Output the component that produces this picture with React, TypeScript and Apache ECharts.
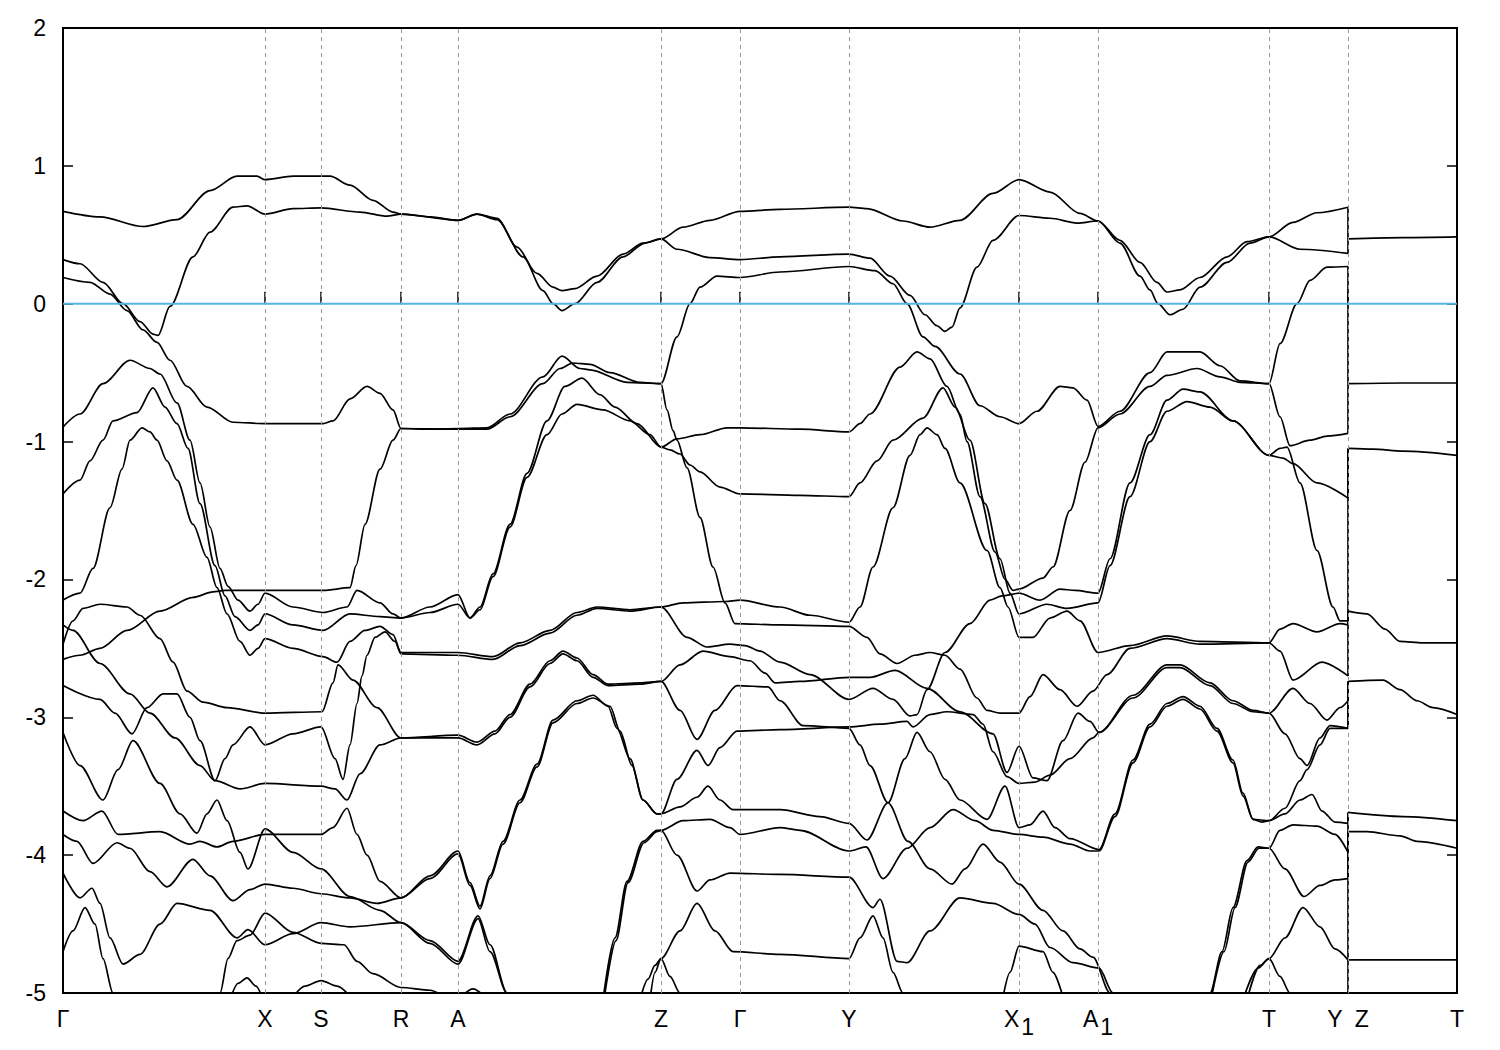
import React, { useEffect, useRef } from "react";
import * as echarts from "echarts";

// high-symmetry k-points (path distance) and their labels
const kPoints = [0, 2.02, 2.58, 3.38, 3.95, 5.98, 6.77, 7.86, 9.56, 10.35, 12.06, 12.85, 13.94];
const kLabels = ["Γ", "X", "S", "R", "A", "Z", "Γ", "Y", "X|1", "A|1", "T", "Y  Z", "T"];
const eMin = -5;
const eMax = 2;
const kYZ = 12.85;

// bands along Γ-X-S-R-A-Z-Γ-Y-X1-A1-T-Y  ([k, E] in eV)
const bandU1 = [[0,0.67],[0.37,0.63],[0.80,0.56],[1.14,0.61],[1.47,0.82],[1.74,0.925],[1.94,0.925],[2.02,0.90],[2.30,0.925],[2.67,0.925],[2.87,0.86],[3.10,0.75],[3.30,0.665],[3.38,0.65],[3.67,0.63],[3.95,0.605],[4.14,0.65],[4.34,0.62],[4.54,0.41],[4.74,0.22],[4.90,0.12],[4.99,0.095],[5.12,0.11],[5.34,0.20],[5.60,0.36],[5.80,0.44],[5.98,0.47],[6.20,0.555],[6.47,0.605],[6.77,0.67],[7.17,0.685],[7.86,0.70],[8.04,0.69],[8.40,0.60],[8.67,0.555],[8.97,0.605],[9.30,0.80],[9.56,0.90],[9.87,0.81],[10.17,0.655],[10.35,0.60],[10.57,0.46],[10.77,0.30],[10.94,0.155],[11.04,0.085],[11.17,0.10],[11.37,0.19],[11.64,0.34],[11.84,0.45],[12.06,0.485],[12.30,0.59],[12.54,0.66],[12.85,0.70]];
const bandU2 = [[0,0.32],[0.17,0.29],[0.40,0.155],[0.60,0.0],[0.77,-0.13],[0.90,-0.22],[0.95,-0.23],[1.07,-0.02],[1.30,0.34],[1.47,0.52],[1.70,0.70],[1.84,0.71],[2.02,0.65],[2.30,0.69],[2.58,0.695],[2.97,0.665],[3.24,0.635],[3.38,0.65],[3.95,0.605],[4.14,0.65],[4.34,0.61],[4.60,0.34],[4.80,0.095],[4.90,0.0],[4.99,-0.05],[5.12,0.0],[5.34,0.155],[5.60,0.34],[5.82,0.44],[5.98,0.47],[6.14,0.395],[6.47,0.335],[6.77,0.32],[7.17,0.34],[7.86,0.36],[8.07,0.33],[8.27,0.20],[8.47,0.06],[8.62,-0.08],[8.74,-0.16],[8.82,-0.20],[8.89,-0.17],[8.97,-0.03],[9.14,0.265],[9.30,0.46],[9.56,0.64],[9.87,0.62],[10.14,0.585],[10.35,0.60],[10.57,0.44],[10.77,0.20],[10.87,0.10],[10.95,0.0],[11.07,-0.08],[11.20,-0.04],[11.37,0.12],[11.64,0.30],[11.87,0.44],[12.06,0.485],[12.37,0.395],[12.85,0.365]];
const bandU3 = [[0,0.19],[0.27,0.155],[0.47,0.07],[0.64,-0.05],[0.80,-0.19],[0.94,-0.28],[1.07,-0.41],[1.24,-0.60],[1.44,-0.75],[1.70,-0.86],[2.02,-0.87],[2.60,-0.87],[2.70,-0.85],[2.87,-0.69],[3.04,-0.60],[3.17,-0.65],[3.30,-0.77],[3.38,-0.905],[3.67,-0.91],[3.95,-0.905],[4.24,-0.90],[4.47,-0.80],[4.80,-0.53],[4.99,-0.38],[5.17,-0.47],[5.27,-0.48],[5.64,-0.57],[5.98,-0.58],[6.14,-0.24],[6.27,0.0],[6.37,0.12],[6.54,0.20],[6.77,0.19],[7.17,0.23],[7.86,0.27],[8.12,0.24],[8.30,0.145],[8.44,0.0],[8.60,-0.24],[8.72,-0.31],[8.97,-0.51],[9.17,-0.74],[9.37,-0.82],[9.56,-0.87],[9.74,-0.78],[9.97,-0.60],[10.10,-0.61],[10.24,-0.70],[10.35,-0.89],[10.57,-0.78],[10.87,-0.50],[11.04,-0.35],[11.37,-0.35],[11.57,-0.45],[11.77,-0.56],[12.06,-0.58],[12.17,-0.29],[12.34,0.0],[12.47,0.17],[12.64,0.265],[12.85,0.27]];
const bandL4 = [[0,-0.895],[0.17,-0.8],[0.40,-0.58],[0.67,-0.41],[0.87,-0.47],[0.97,-0.51],[1.14,-0.72],[1.27,-0.99],[1.37,-1.3],[1.47,-1.62],[1.57,-1.92],[1.65,-2.05],[1.75,-2.15],[1.87,-2.23],[1.95,-2.18],[2.02,-2.10],[2.30,-2.2],[2.60,-2.24],[2.84,-2.2],[2.94,-2.08],[3.17,-2.17],[3.30,-2.25],[3.38,-2.28],[3.67,-2.2],[3.95,-2.11],[4.07,-2.28],[4.17,-2.2],[4.30,-1.96],[4.47,-1.6],[4.64,-1.23],[4.84,-0.85],[5.02,-0.6],[5.19,-0.54],[5.37,-0.66],[5.52,-0.75],[5.74,-0.87],[5.98,-1.04],[6.14,-0.98],[6.37,-0.95],[6.64,-0.9],[6.77,-0.9],[7.37,-0.91],[7.86,-0.93],[7.97,-0.87],[8.07,-0.8],[8.37,-0.46],[8.54,-0.35],[8.67,-0.4],[8.84,-0.6],[8.97,-0.8],[9.04,-1.0],[9.17,-1.4],[9.32,-1.8],[9.42,-2.0],[9.50,-2.08],[9.56,-2.07],[9.80,-1.99],[9.90,-1.91],[10.07,-1.5],[10.22,-1.15],[10.35,-0.9],[10.57,-0.8],[10.87,-0.6],[11.04,-0.52],[11.34,-0.47],[11.57,-0.53],[11.77,-0.57],[12.06,-0.58],[12.17,-0.82],[12.27,-1.03],[12.47,-0.99],[12.64,-0.96],[12.85,-0.94]];
const bandL6 = [[0,-1.38],[0.17,-1.28],[0.27,-1.14],[0.40,-0.99],[0.50,-0.85],[0.74,-0.79],[0.90,-0.61],[1.02,-0.75],[1.14,-0.87],[1.25,-1.05],[1.37,-1.45],[1.52,-1.9],[1.62,-2.12],[1.72,-2.27],[1.87,-2.37],[1.95,-2.33],[2.02,-2.25],[2.30,-2.33],[2.60,-2.37],[2.87,-2.25],[3.17,-2.27],[3.38,-2.28],[3.67,-2.24],[3.95,-2.18],[4.07,-2.28],[4.17,-2.22],[4.30,-1.98],[4.47,-1.62],[4.64,-1.26],[4.84,-0.95],[4.99,-0.8],[5.14,-0.73],[5.40,-0.77],[5.67,-0.85],[5.87,-0.95],[5.98,-1.04],[6.07,-1.06],[6.17,-1.09],[6.27,-1.17],[6.37,-1.22],[6.57,-1.33],[6.77,-1.38],[7.37,-1.39],[7.86,-1.4],[7.97,-1.3],[8.14,-1.14],[8.30,-0.99],[8.60,-0.83],[8.80,-0.61],[8.92,-0.75],[9.07,-0.99],[9.22,-1.45],[9.37,-1.85],[9.47,-2.1],[9.56,-2.25],[9.84,-2.18],[10.04,-2.21],[10.35,-2.17],[10.47,-1.9],[10.67,-1.4],[10.87,-1.0],[11.04,-0.78],[11.24,-0.71],[11.47,-0.75],[11.70,-0.85],[12.06,-1.1],[12.20,-1.12],[12.30,-1.16],[12.54,-1.3],[12.85,-1.41]];
const bandL7 = [[0,-2.15],[0.17,-2.1],[0.30,-1.92],[0.47,-1.48],[0.59,-1.2],[0.67,-0.99],[0.79,-0.9],[0.87,-0.93],[0.94,-0.99],[1.04,-1.14],[1.14,-1.28],[1.30,-1.6],[1.44,-1.84],[1.54,-2.06],[1.64,-2.25],[1.77,-2.45],[1.87,-2.55],[1.95,-2.5],[2.02,-2.43],[2.30,-2.5],[2.60,-2.56],[2.74,-2.6],[2.87,-2.45],[3.02,-2.37],[3.17,-2.34],[3.30,-2.4],[3.38,-2.53],[3.95,-2.53],[4.30,-2.56],[4.57,-2.46],[4.87,-2.37],[5.14,-2.24],[5.34,-2.2],[5.67,-2.22],[5.98,-2.2],[6.20,-2.17],[6.62,-2.16],[6.77,-2.15],[7.17,-2.2],[7.47,-2.26],[7.86,-2.31],[7.97,-2.2],[8.10,-1.91],[8.30,-1.48],[8.47,-1.1],[8.57,-0.95],[8.64,-0.9],[8.74,-0.95],[8.82,-1.05],[8.97,-1.3],[9.24,-1.79],[9.37,-2.06],[9.45,-2.2],[9.56,-2.42],[9.70,-2.42],[9.87,-2.28],[10.04,-2.23],[10.17,-2.3],[10.35,-2.53],[10.67,-2.48],[11.04,-2.41],[11.37,-2.45],[12.06,-2.46],[12.17,-2.36],[12.30,-2.32],[12.54,-2.38],[12.77,-2.32],[12.85,-2.33]];
const bandL8 = [[0,-2.58],[0.17,-2.55],[0.37,-2.5],[0.64,-2.37],[0.97,-2.23],[1.30,-2.13],[1.50,-2.09],[1.62,-2.08],[2.02,-2.08],[2.60,-2.08],[2.87,-2.06],[2.93,-1.9],[3.02,-1.6],[3.17,-1.2],[3.30,-0.99],[3.38,-0.905],[3.95,-0.91],[4.24,-0.91],[4.47,-0.82],[4.80,-0.58],[4.97,-0.47],[5.10,-0.43],[5.27,-0.44],[5.47,-0.5],[5.77,-0.57],[5.98,-0.58],[6.04,-0.77],[6.10,-0.92],[6.14,-0.99],[6.24,-1.19],[6.37,-1.55],[6.50,-1.91],[6.62,-2.17],[6.72,-2.32],[7.17,-2.33],[7.86,-2.34],[8.04,-2.42],[8.17,-2.54],[8.34,-2.61],[8.52,-2.55],[8.67,-2.53],[8.82,-2.55],[8.97,-2.65],[9.14,-2.86],[9.24,-2.95],[9.37,-2.97],[9.56,-2.97],[9.67,-2.85],[9.80,-2.69],[9.97,-2.8],[10.14,-2.92],[10.30,-2.81],[10.44,-2.69],[10.67,-2.5],[11.04,-2.43],[11.37,-2.47],[12.06,-2.46],[12.17,-2.52],[12.30,-2.73],[12.59,-2.6],[12.85,-2.7]];
const bandA = [[0,-2.33],[0.10,-2.37],[0.37,-2.61],[0.67,-2.83],[0.87,-2.97],[1.12,-3.15],[1.37,-3.35],[1.52,-3.46],[1.77,-3.52],[2.02,-3.48],[2.58,-3.5],[2.72,-3.52],[2.84,-3.6],[2.97,-3.41],[3.17,-3.2],[3.38,-3.15],[3.95,-3.15],[4.14,-3.2],[4.32,-3.12],[4.47,-3.0],[4.67,-2.78],[4.87,-2.61],[5.00,-2.54],[5.14,-2.59],[5.30,-2.71],[5.45,-2.77],[5.77,-2.76],[5.98,-2.74],[6.17,-2.95],[6.34,-3.16],[6.52,-2.95],[6.74,-2.77],[7.05,-2.78],[7.17,-2.88],[7.40,-3.06],[7.86,-3.08],[7.97,-3.2],[8.07,-3.35],[8.25,-3.62],[8.45,-3.9],[8.67,-4.1],[8.89,-4.21],[9.02,-4.1],[9.20,-3.92],[9.37,-4.05],[9.56,-4.21],[9.80,-4.4],[10.00,-4.55],[10.17,-4.68],[10.30,-4.74],[10.47,-5.0],[10.52,-5.1]];
const bandB = [[0,-2.47],[0.10,-2.3],[0.20,-2.21],[0.37,-2.18],[0.64,-2.2],[0.77,-2.26],[0.97,-2.43],[1.10,-2.6],[1.24,-2.81],[1.40,-2.89],[1.64,-2.93],[2.02,-2.97],[2.59,-2.96],[2.70,-2.75],[2.75,-2.62],[2.90,-2.73],[3.14,-2.93],[3.38,-3.15],[3.95,-3.13],[4.14,-3.18],[4.32,-3.1],[4.47,-2.98],[4.67,-2.76],[4.87,-2.59],[5.00,-2.52],[5.14,-2.57],[5.30,-2.69],[5.45,-2.76],[5.77,-2.75],[5.98,-2.74],[6.17,-2.62],[6.40,-2.52],[6.67,-2.56],[6.87,-2.59],[7.02,-2.68],[7.12,-2.75],[7.37,-2.74],[7.86,-2.71],[8.07,-2.71],[8.32,-2.66],[8.64,-2.79],[8.97,-2.96],[9.30,-3.12],[9.44,-3.4],[9.56,-3.21],[9.70,-3.44],[9.84,-3.46],[10.00,-3.17],[10.15,-2.97],[10.27,-3.03],[10.36,-3.11],[10.70,-2.84],[11.04,-2.62],[11.17,-2.62],[11.47,-2.75],[11.70,-2.88],[11.90,-2.95],[12.06,-2.97],[12.30,-2.79],[12.47,-2.9],[12.64,-3.02],[12.77,-2.93],[12.85,-2.88]];
const bandC = [[0,-2.77],[0.37,-2.87],[0.52,-2.97],[0.69,-3.12],[0.84,-2.93],[1.00,-2.83],[1.14,-2.83],[1.27,-3.0],[1.37,-3.17],[1.52,-3.46],[1.62,-3.3],[1.70,-3.2],[1.87,-3.07],[2.02,-3.2],[2.30,-3.12],[2.58,-3.07],[2.72,-3.3],[2.80,-3.45],[2.87,-3.2],[2.94,-2.9],[2.99,-2.7],[3.04,-2.55],[3.12,-2.42],[3.22,-2.38],[3.32,-2.45],[3.38,-2.54],[3.95,-2.55],[4.30,-2.58],[4.57,-2.48],[4.87,-2.39],[5.14,-2.26],[5.34,-2.21],[5.67,-2.23],[5.98,-2.2],[6.24,-2.42],[6.44,-2.49],[6.67,-2.47],[6.82,-2.48],[6.97,-2.52],[7.17,-2.6],[7.47,-2.69],[7.86,-2.87],[8.10,-2.79],[8.30,-2.87],[8.47,-2.99],[8.54,-2.98],[8.64,-2.8],[8.82,-2.53],[9.07,-2.32],[9.27,-2.15],[9.39,-2.12],[9.56,-2.1],[9.77,-2.15],[9.97,-2.07],[10.12,-2.08],[10.35,-2.1],[10.47,-1.85],[10.67,-1.3],[10.87,-0.95],[11.04,-0.7],[11.20,-0.62],[11.37,-0.64],[11.70,-0.85],[12.06,-1.1],[12.17,-1.05],[12.24,-1.04],[12.37,-1.3],[12.54,-1.79],[12.70,-2.2],[12.77,-2.3],[12.85,-2.3]];
const bandD = [[0,-3.11],[0.17,-3.35],[0.40,-3.6],[0.55,-3.38],[0.70,-3.17],[0.97,-3.48],[1.17,-3.7],[1.34,-3.84],[1.44,-3.7],[1.54,-3.6],[1.64,-3.75],[1.77,-3.98],[1.85,-4.1],[2.02,-3.81],[2.30,-3.98],[2.58,-4.1],[2.87,-4.3],[3.17,-4.4],[3.38,-4.49],[3.67,-4.62],[3.95,-4.77],[4.15,-4.44],[4.27,-4.65],[4.44,-5.0],[4.52,-5.15]];
const bandE = [[0,-3.68],[0.20,-3.75],[0.39,-3.68],[0.55,-3.85],[0.97,-3.83],[1.27,-3.92],[1.37,-3.9],[1.54,-3.94],[1.70,-3.9],[2.02,-3.85],[2.58,-3.85],[2.70,-3.8],[2.84,-3.66],[2.94,-3.85],[3.04,-4.0],[3.17,-4.19],[3.38,-4.31],[3.67,-4.15],[3.95,-3.97],[4.07,-4.2],[4.17,-4.37],[4.27,-4.15],[4.40,-3.9],[4.57,-3.6],[4.74,-3.34],[4.90,-3.02],[5.14,-2.88],[5.30,-2.84],[5.45,-2.92],[5.54,-3.08],[5.67,-3.3],[5.80,-3.6],[5.94,-3.7],[5.98,-3.7],[6.17,-3.65],[6.34,-3.58],[6.45,-3.5],[6.57,-3.6],[6.70,-3.67],[7.17,-3.67],[7.57,-3.72],[7.86,-3.77],[8.04,-3.89],[8.25,-3.62],[8.42,-3.3],[8.54,-3.11],[8.67,-3.25],[8.82,-3.45],[8.97,-3.6],[9.24,-3.74],[9.42,-3.5],[9.56,-3.8],[9.67,-3.78],[9.80,-3.68],[9.92,-3.8],[10.07,-3.88],[10.36,-3.96],[10.52,-3.7],[10.70,-3.31],[10.87,-3.05],[11.04,-2.9],[11.20,-2.85],[11.37,-2.92],[11.54,-3.08],[11.70,-3.31],[11.80,-3.55],[11.90,-3.74],[11.99,-3.76],[12.06,-3.75],[12.22,-3.7],[12.37,-3.6],[12.49,-3.56],[12.59,-3.68],[12.72,-3.76],[12.85,-3.77]];
const bandF = [[0,-3.85],[0.14,-3.9],[0.30,-4.06],[0.54,-3.91],[0.67,-3.95],[0.87,-4.12],[1.04,-4.23],[1.30,-4.03],[1.47,-4.15],[1.70,-4.33],[1.87,-4.25],[2.02,-4.21],[2.30,-4.24],[2.58,-4.28],[2.87,-4.31],[3.14,-4.35],[3.38,-4.31],[3.67,-4.17],[3.95,-3.99],[4.07,-4.22],[4.17,-4.39],[4.27,-4.17],[4.40,-3.92],[4.57,-3.62],[4.74,-3.36],[4.90,-3.04],[5.14,-2.9],[5.30,-2.86],[5.47,-2.92],[5.57,-3.1],[5.69,-3.35],[5.80,-3.6],[5.94,-3.7],[5.98,-3.7],[6.14,-3.45],[6.34,-3.24],[6.45,-3.35],[6.57,-3.22],[6.74,-3.1],[7.17,-3.09],[7.86,-3.07],[8.17,-3.05],[8.44,-3.03],[8.50,-3.07],[8.67,-2.98],[8.84,-2.96],[9.10,-2.98],[9.20,-3.05],[9.30,-3.25],[9.44,-3.43],[9.56,-3.48],[9.72,-3.47],[9.87,-3.42],[10.07,-3.3],[10.30,-3.15],[10.36,-3.11],[10.70,-2.86],[11.04,-2.64],[11.17,-2.64],[11.47,-2.77],[11.70,-2.9],[11.90,-2.96],[12.06,-2.97],[12.22,-3.12],[12.37,-3.3],[12.44,-3.35],[12.57,-3.15],[12.67,-3.06],[12.85,-3.08]];
const bandG = [[0,-4.13],[0.17,-4.31],[0.29,-4.24],[0.37,-4.35],[0.47,-4.6],[0.60,-4.79],[0.77,-4.72],[0.97,-4.5],[1.14,-4.35],[1.47,-4.4],[1.74,-4.6],[1.85,-4.54],[2.02,-4.65],[2.30,-4.57],[2.58,-4.49],[2.87,-4.52],[3.38,-4.49],[3.67,-4.64],[3.95,-4.79],[4.15,-4.46],[4.27,-4.7],[4.44,-5.0],[4.52,-5.15]];
const bandH = [[0,-4.7],[0.10,-4.55],[0.22,-4.38],[0.32,-4.5],[0.40,-4.75],[0.50,-5.0],[0.55,-5.15]];
const bandJ = [[1.55,-5.15],[1.57,-5.0],[1.65,-4.75],[1.74,-4.62],[1.87,-4.58],[2.02,-4.42],[2.30,-4.56],[2.58,-4.64],[2.81,-4.65],[2.94,-4.77],[3.10,-4.86],[3.38,-4.96],[3.67,-4.98],[3.85,-5.05]];
const bandK1 = [[1.67,-5.05],[1.75,-4.93],[1.84,-4.89],[1.93,-4.95],[2.00,-5.05]];
const bandK2 = [[2.28,-5.05],[2.42,-4.95],[2.58,-4.91],[2.74,-4.95],[2.90,-5.05]];
const bandK3 = [[3.98,-5.03],[4.10,-4.97],[4.22,-5.03]];
const bandR1 = [[5.40,-5.05],[5.52,-4.6],[5.64,-4.19],[5.80,-3.9],[5.94,-3.82],[5.98,-3.82],[6.20,-3.75],[6.47,-3.74],[6.67,-3.8],[6.77,-3.85],[7.17,-3.8],[7.37,-3.82],[7.86,-3.97],[8.03,-3.94],[8.20,-4.17],[8.44,-3.95],[8.67,-3.8],[8.90,-3.67],[9.12,-3.75],[9.30,-3.82],[9.56,-3.85],[9.80,-3.87],[10.07,-3.92],[10.27,-3.97],[10.36,-3.97],[10.52,-3.72],[10.70,-3.33],[10.87,-3.07],[11.04,-2.92],[11.20,-2.87],[11.37,-2.94],[11.54,-3.1],[11.70,-3.33],[11.80,-3.57],[11.90,-3.74],[12.06,-3.75],[12.22,-3.66],[12.37,-3.46],[12.44,-3.38],[12.57,-3.2],[12.67,-3.08],[12.85,-3.08]];
const bandR2 = [[5.41,-5.05],[5.53,-4.62],[5.65,-4.2],[5.81,-3.91],[5.94,-3.83],[5.98,-3.82],[6.14,-4.0],[6.34,-4.26],[6.47,-4.18],[6.67,-4.13],[7.17,-4.14],[7.86,-4.16],[8.10,-4.38],[8.17,-4.32],[8.34,-4.77],[8.44,-4.78],[8.67,-4.55],[8.97,-4.31],[9.30,-4.35],[9.56,-4.43],[9.72,-4.5],[9.87,-4.67],[10.10,-4.78],[10.36,-4.82],[10.50,-5.0],[10.55,-5.1]];
const bandM1 = [[5.87,-5.05],[5.92,-4.85],[5.98,-4.75],[6.17,-4.55],[6.34,-4.35],[6.52,-4.55],[6.70,-4.7],[7.17,-4.72],[7.86,-4.75],[7.97,-4.6],[8.10,-4.44],[8.20,-4.6],[8.30,-4.85],[8.40,-5.0],[8.45,-5.1]];
const bandM2 = [[5.77,-5.05],[5.85,-4.9],[5.92,-4.8],[5.98,-4.75],[6.07,-4.88],[6.17,-5.0],[6.22,-5.05]];
const bandN = [[9.40,-5.03],[9.47,-4.85],[9.56,-4.66],[9.80,-4.7],[9.90,-4.85],[10.00,-5.03]];
const bandT1 = [[11.45,-5.05],[11.47,-5.0],[11.59,-4.7],[11.70,-4.38],[11.84,-4.04],[11.95,-3.94],[12.06,-3.95],[12.17,-3.82],[12.30,-3.78],[12.54,-3.79],[12.72,-3.85],[12.85,-3.98]];
const bandT2 = [[11.48,-5.05],[11.61,-4.7],[11.72,-4.38],[11.85,-4.05],[11.96,-3.95],[12.06,-3.95],[12.22,-4.1],[12.41,-4.3],[12.57,-4.22],[12.72,-4.18],[12.85,-4.17]];
const bandT3 = [[11.80,-5.05],[11.95,-4.82],[12.06,-4.75],[12.17,-4.88],[12.27,-5.0],[12.32,-5.05]];
const bandT4 = [[11.84,-5.05],[11.97,-4.8],[12.06,-4.75],[12.22,-4.6],[12.40,-4.38],[12.57,-4.52],[12.72,-4.68],[12.85,-4.76]];
const bandW = [[12.85,-5.1]];

// bands along Z-T (doubly degenerate)
const zt1 = [[12.85,0.47],[13.40,0.48],[13.94,0.485]];
const zt2 = [[12.85,-0.58],[13.40,-0.575],[13.94,-0.575]];
const zt3 = [[12.85,-1.05],[13.10,-1.055],[13.40,-1.07],[13.94,-1.1]];
const zt4 = [[12.85,-2.23],[13.04,-2.25],[13.22,-2.36],[13.37,-2.45],[13.60,-2.46],[13.94,-2.46]];
const zt5 = [[12.85,-2.74],[13.20,-2.73],[13.37,-2.8],[13.54,-2.88],[13.70,-2.93],[13.94,-2.98]];
const zt6 = [[12.85,-3.69],[13.40,-3.72],[13.94,-3.75]];
const zt7 = [[12.85,-3.83],[13.04,-3.83],[13.37,-3.86],[13.54,-3.9],[13.94,-3.95]];
const zt8 = [[12.85,-4.76],[13.94,-4.76]];

const mainBands = [bandU1, bandU2, bandU3, bandL4, bandL6, bandL7, bandL8, bandA, bandB, bandC, bandD, bandE, bandF, bandG, bandH, bandJ, bandK1, bandK2, bandK3, bandR1, bandR2, bandM1, bandM2, bandN, bandT1, bandT2, bandT3, bandT4];
const ztBands = [zt1, zt2, zt3, zt4, zt5, zt6, zt7, zt8];
// which Y-end joins which Z-start at the Y|Z break
const links = [
  [bandU1, zt1], [bandU2, zt1], [bandU3, zt2], [bandL4, zt2], [bandL6, zt3], [bandC, zt3],
  [bandL7, zt4], [bandL8, zt4], [bandB, zt5], [bandF, zt5], [bandR1, zt5], [bandE, zt6],
  [bandT1, zt6], [bandT2, zt7], [bandT4, zt7], [bandW, zt8],
];

const FONT = "Liberation Sans";

export default function App() {
  const ref = useRef<HTMLDivElement>(null);
  useEffect(() => {
    if (!ref.current) return;
    const chart = echarts.init(ref.current, undefined, { renderer: "svg" });
    const lineStyle = { color: "#000", width: 1.7 };
    const series: any[] = [];
    // vertical dashed guides at high-symmetry points
    series.push({
      type: "line",
      data: [],
      silent: true,
      z: 1,
      markLine: {
        silent: true,
        symbol: ["none", "none"],
        label: { show: false },
        lineStyle: { color: "#9a9a9a", type: [4, 4], width: 1 },
        data: kPoints.slice(1, -1).map((k) => ({ xAxis: k })),
      },
    });
    mainBands.forEach((d) => {
      if (d.length < 2) return;
      series.push({
        type: "line", data: d, showSymbol: false, symbol: "none",
        smooth: 0.3, smoothMonotone: "x", lineStyle, z: 3, silent: true,
      });
    });
    ztBands.forEach((d) => {
      series.push({ type: "line", data: d, showSymbol: false, symbol: "none", smooth: 0.3, smoothMonotone: "x", lineStyle, z: 3, silent: true });
    });
    links.forEach(([b, z]) => {
      const yEnd = b[b.length - 1][1];
      const zStart = z[0][1];
      series.push({ type: "line", data: [[kYZ, yEnd], [kYZ, zStart]], showSymbol: false, symbol: "none", lineStyle, z: 3, silent: true });
    });
    // Fermi level
    series.push({
      type: "line", data: [[kPoints[0], 0], [kPoints[kPoints.length - 1], 0]],
      showSymbol: false, symbol: "none", lineStyle: { color: "#56b4e9", width: 2 }, z: 5, silent: true,
    });

    const labelFmt = (v: number) => {
      const i = kPoints.findIndex((k) => Math.abs(k - v) < 1e-6);
      if (i < 0) return "";
      const s = kLabels[i];
      if (s.includes("|")) {
        const [a, b] = s.split("|");
        return `{n|${a}}{s|${b}}`;
      }
      return `{n|${s}}`;
    };

    chart.setOption({
      animation: false,
      backgroundColor: "#fff",
      grid: { left: 63, right: 43, top: 28, bottom: 57, show: true, borderColor: "#000", borderWidth: 2, backgroundColor: "transparent" },
      xAxis: {
        type: "value", min: kPoints[0], max: kPoints[kPoints.length - 1],
        axisLine: { show: false },
        splitLine: { show: false },
        axisTick: { show: true, inside: true, length: 12, customValues: kPoints.slice(1, -1), lineStyle: { color: "#000", width: 1.5 } },
        axisLabel: {
          show: true, customValues: kPoints, margin: 14, formatter: labelFmt,
          rich: {
            n: { fontFamily: FONT, fontSize: 23, color: "#000", verticalAlign: "top", lineHeight: 26 },
            s: { fontFamily: FONT, fontSize: 23, color: "#000", verticalAlign: "top", lineHeight: 26, padding: [8, 0, 0, 2] },
          },
        },
      },
      yAxis: [
        {
          type: "value", min: eMin, max: eMax, interval: 1,
          axisLine: { show: false }, splitLine: { show: false },
          axisTick: { show: true, inside: true, length: 10, lineStyle: { color: "#000", width: 1.5 } },
          axisLabel: { fontFamily: FONT, fontSize: 23, color: "#000", margin: 17 },
        },
        {
          type: "value", min: eMin, max: eMax, interval: 1, position: "right",
          axisLine: { show: false }, splitLine: { show: false },
          axisTick: { show: true, inside: true, length: 10, lineStyle: { color: "#000", width: 1.5 } },
          axisLabel: { show: false },
        },
      ],
      series,
    });
    return () => chart.dispose();
  }, []);
  return <div ref={ref} style={{ position: "fixed", left: 0, top: 0, width: 1500, height: 1050, background: "#fff" }} />;
}
